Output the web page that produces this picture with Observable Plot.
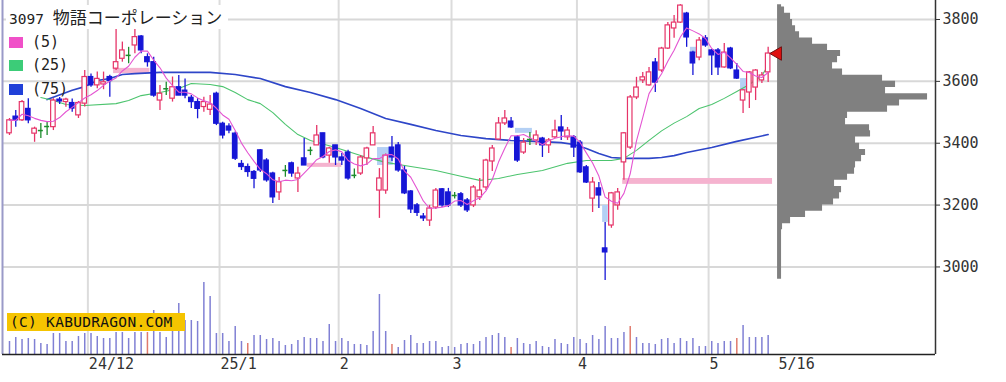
<!DOCTYPE html>
<html><head><meta charset="utf-8">
<script src="https://cdn.jsdelivr.net/npm/d3@7"></script>
<script src="https://cdn.jsdelivr.net/npm/@observablehq/plot@0.6"></script>
<style>
html,body{margin:0;padding:0;background:#fff;}
#wrap{position:relative;width:1006px;height:382px;overflow:hidden;font-family:"DejaVu Sans Mono",monospace;}
#wrap svg{position:absolute;left:0;top:0;}
.title{position:absolute;left:6px;top:5px;background:#fff;padding:0 6px 0 3px;color:#222;white-space:nowrap;line-height:24px;height:24px;}
.title .n{font-family:"DejaVu Sans Mono",monospace;font-size:14.5px;}
.title .j{font-family:"Noto Sans CJK JP",sans-serif;font-size:17px;}
.lg{position:absolute;left:9px;width:14px;height:11px;}
.lt{position:absolute;left:32px;font-size:15px;color:#222;line-height:16px;}
.copy{position:absolute;left:7px;top:313px;width:178px;height:18px;background:#f5c400;color:#111;font-size:14.5px;line-height:18px;padding-left:3px;box-sizing:border-box;letter-spacing:0.3px;}
</style></head><body><div id="wrap"></div><script>
// ---- data (index 0 = 2024-11-13 ... 121 = 2025-05-16) ----
const open  = [3432,3486,3474,3511,3431,3441,3454,3452,3541,3533,3530,3490,3528,3614,3587,3590,3614,3641,3673,3684,3716,3745,3678,3662,3538,3576,3544,3581,3570,3547,3533,3517,3508,3560,3463,3454,3431,3333,3323,3307,3377,3344,3302,3241,3312,3335,3286,3351,3377,3393,3432,3360,3393,3354,3370,3296,3302,3351,3393,3247,3247,3386,3393,3312,3244,3199,3163,3150,3192,3251,3241,3231,3235,3215,3199,3225,3257,3341,3412,3464,3470,3419,3370,3412,3409,3415,3393,3419,3451,3419,3419,3402,3322,3221,3254,3060,3134,3199,3338,3386,3548,3603,3587,3661,3635,3706,3771,3790,3819,3693,3677,3739,3700,3700,3645,3706,3635,3538,3564,3580,3603,3629];
const high  = [3480,3506,3538,3544,3452,3464,3468,3544,3548,3545,3543,3535,3635,3624,3630,3630,3620,3770,3727,3710,3771,3748,3689,3678,3587,3597,3614,3619,3608,3554,3544,3549,3554,3565,3468,3463,3436,3344,3333,3312,3380,3350,3306,3289,3328,3339,3322,3415,3387,3457,3432,3387,3393,3367,3377,3317,3360,3387,3454,3318,3365,3422,3402,3325,3247,3205,3173,3199,3254,3254,3254,3241,3241,3221,3263,3286,3348,3393,3483,3506,3483,3425,3415,3435,3440,3419,3415,3474,3490,3451,3425,3409,3328,3289,3273,3144,3241,3254,3435,3554,3613,3629,3645,3674,3710,3790,3813,3848,3823,3697,3742,3748,3703,3706,3722,3710,3658,3574,3632,3638,3629,3710];
const low   = [3425,3452,3470,3463,3403,3415,3425,3441,3525,3516,3500,3480,3517,3581,3576,3573,3549,3635,3662,3657,3689,3689,3646,3549,3506,3554,3533,3554,3544,3512,3479,3500,3490,3457,3414,3431,3344,3312,3290,3253,3305,3274,3205,3215,3290,3290,3241,3328,3360,3393,3350,3335,3328,3328,3280,3285,3296,3328,3393,3157,3235,3341,3306,3234,3173,3163,3147,3131,3186,3192,3192,3220,3192,3176,3192,3215,3247,3309,3409,3457,3448,3338,3364,3393,3393,3354,3367,3415,3409,3409,3354,3302,3270,3176,3189,2956,3125,3183,3280,3380,3541,3593,3584,3564,3629,3703,3739,3787,3710,3619,3667,3710,3619,3619,3642,3638,3606,3496,3512,3538,3593,3596];
const close = [3474,3474,3533,3474,3447,3441,3454,3538,3535,3541,3512,3530,3614,3587,3608,3597,3601,3662,3700,3684,3743,3700,3662,3554,3560,3576,3581,3554,3554,3533,3511,3533,3525,3463,3425,3441,3350,3323,3307,3285,3312,3280,3225,3274,3312,3302,3302,3328,3377,3425,3354,3383,3354,3344,3286,3296,3354,3383,3432,3286,3360,3354,3312,3238,3186,3175,3157,3189,3247,3199,3199,3231,3199,3183,3257,3247,3344,3383,3464,3480,3451,3344,3402,3412,3425,3393,3409,3441,3438,3441,3386,3306,3273,3273,3231,3047,3238,3241,3432,3548,3580,3613,3629,3596,3706,3781,3790,3845,3742,3658,3732,3716,3684,3645,3693,3642,3609,3571,3629,3635,3619,3690];
// volume (relative units); red-coloured volume days
const volume = [13,17,15,16,15,11,10,21,21,13,13,18,21,21,18,16,16,22,22,16,22,22,22,44,22,17,28,51,34,34,33,72,58,21,21,13,28,13,11,19,19,15,16,13,9,10,14,17,16,16,13,30,13,16,13,10,10,9,23,60,23,10,7,14,19,11,11,13,13,7,8,7,10,11,10,13,17,19,21,17,7,16,11,10,13,8,7,15,11,10,17,15,11,19,15,28,16,16,22,28,17,11,11,10,15,16,11,16,13,16,8,8,13,11,13,13,16,29,17,17,17,19];
const volRedDays = [22,38,61,80,99,116];
// moving averages: [index, price]
const ma25Idx = [5,7,9,12,17,19,21,24,27,29,32,34,36,38,40,42,44,46,48,52,56,60,64,68,72,75,78,81,85,89,92,96,98,100,102,104,106,108,110,112,114,116,118,120,121];
const ma25Val = [3548,3538,3525,3522,3528,3538,3554,3564,3577,3593,3590,3583,3564,3541,3528,3499,3461,3428,3409,3386,3360,3338,3325,3312,3293,3280,3286,3299,3312,3335,3344,3344,3351,3377,3409,3440,3465,3486,3512,3525,3545,3567,3590,3619,3651];
const ma75Idx = [6,10,12,14,16,18,20,24,28,32,36,40,44,48,52,56,60,64,68,72,76,80,84,88,90,92,94,96,98,102,104,106,108,112,116,121];
const ma75Val = [3541,3571,3583,3603,3609,3622,3625,3629,3629,3629,3622,3609,3583,3564,3541,3512,3480,3461,3441,3425,3415,3409,3406,3402,3396,3383,3367,3354,3351,3351,3354,3360,3370,3386,3406,3428];
// window (gap) boxes: start index, end index, low price, high price
const gapUp   = [[16.6,22.4,3625,3642],[47.5,53.0,3322,3335],[97.8,121.7,3267,3286]];
const gapDown = [[58.7,61.2,3328,3386],[80.7,83.4,3432,3448],[94.6,95.5,3144,3199],[108.6,109.7,3690,3710],[116.6,117.7,3571,3609]];
// price-by-volume profile: bin low price and relative volume (top of last bin 3848)
const profLo  = [2960,2980,3000,3020,3040,3060,3080,3100,3120,3140,3160,3180,3200,3220,3240,3260,3280,3300,3320,3340,3360,3380,3400,3420,3440,3460,3480,3500,3520,3540,3560,3580,3600,3620,3640,3660,3680,3700,3720,3740,3760,3780,3800,3820,3840];
const profVol = [4,4,4,4,4,4,4,4,5,13,28,45,56,62,64,57,70,77,78,84,88,82,78,93,92,68,70,110,122,150,108,118,105,65,55,60,63,50,35,22,18,15,13,7,4];
const profTop = 3848;
const priceTicks = [3000,3200,3400,3600,3800];
const monthIdx = [12.5,33.5,52.5,70.5,90.5,111.5];
const labelIdx = [12.5,33.5,52.5,70.5,90.5,111.5,122.5];
const labelTxt = ["24/12","25/1","2","3","4","5","5/16"];

// ---- build ----
const candles = open.map((o,i)=>({i,o,h:high[i],l:low[i],c:close[i]}));
const kind = d => d.c>d.o ? "up" : d.c<d.o ? "down" : "doji";
const RED="#e63468", BLUE="#1616d6", GREEN="#1c8c2c";
const colorOf = d => ({up:RED,down:BLUE,doji:GREEN})[kind(d)];
const xDom = [-1.116, 147.69];
const pxPerIdx = (935-2)/(xDom[1]-xDom[0]);
const profBase = 122.5;
const common = {width:1006,height:382,marginLeft:2,marginRight:71,marginTop:0,marginBottom:28,
  style:{background:"transparent",overflow:"visible",fontFamily:"DejaVu Sans Mono, monospace",fontSize:"15px",color:"#333"}};
const volData = volume.map((v,i)=>({i,v,red:volRedDays.includes(i)}));
const volPlot = Plot.plot({...common,
  x:{domain:xDom,axis:null}, y:{domain:[0,354],axis:null},
  marks:[
    Plot.ruleX(monthIdx,{stroke:"#dcdcdc",strokeWidth:2}),
    Plot.ruleX(volData,{x:"i",y1:0,y2:"v",stroke:d=>d.red?"#e07a6c":"#8080d4",strokeWidth:1.5}),
    Plot.axisX({ticks:labelIdx,tickFormat:d=>labelTxt[labelIdx.indexOf(d)],tickSize:0,tickPadding:4,textAnchor:"start",fontSize:15,dx:1,fill:"#333",label:null}),
  ]});
const ma25 = ma25Idx.map((x,k)=>({x,y:ma25Val[k]}));
const ma75 = ma75Idx.map((x,k)=>({x,y:ma75Val[k]}));
const prof = profLo.map((lo,k)=>({p:lo,v:profVol[k]})).concat([{p:profTop,v:profVol[profVol.length-1]}]);
const gapRect = (arr,fill)=>Plot.rect(arr,{x1:d=>d[0],x2:d=>d[1],y1:d=>d[2],y2:d=>d[3],fill});
const bodies = candles.filter(d=>kind(d)!=="doji");
const dojis = candles.filter(d=>kind(d)==="doji");
const pricePlot = Plot.plot({...common,
  x:{domain:xDom,axis:null}, y:{domain:[2717,3861.4],axis:null},
  marks:[
    Plot.ruleY(priceTicks,{stroke:"#d8d8d8",strokeWidth:2}),
    gapRect(gapUp,"#f5b3cf"),
    gapRect(gapDown,"#b4d0f4"),
    Plot.line(ma75,{x:"x",y:"y",stroke:"#2e46c8",strokeWidth:1.6}),
    Plot.line(ma25,{x:"x",y:"y",stroke:"#4cc46e",strokeWidth:1.1}),
    Plot.ruleX(candles,{x:"i",y1:"l",y2:"h",stroke:colorOf,strokeWidth:1.3}),
    Plot.rect(bodies,{x1:d=>d.i-0.36,x2:d=>d.i+0.36,y1:d=>Math.min(d.o,d.c),y2:d=>Math.max(d.o,d.c),
      fill:d=>kind(d)==="up"?"#fff":BLUE, stroke:colorOf, strokeWidth:1.2}),
    Plot.ruleY(dojis,{y:"c",x1:d=>d.i-0.4,x2:d=>d.i+0.4,stroke:GREEN,strokeWidth:1.5}),
    Plot.line(candles,Plot.windowY({k:5,anchor:"end",strict:false},{x:"i",y:"c",stroke:"#e455d2",strokeWidth:1.1})),
    Plot.areaX(prof,{y:"p",x1:profBase,x2:d=>profBase+d.v/pxPerIdx,curve:"step-before",fill:"#808080"}),
    Plot.dot([close[close.length-1]],{x:profBase,y:d=>d,symbol:"triangle",rotate:-90,r:5,fill:"#e01010",stroke:"#701010",strokeWidth:1}),
    Plot.ruleX([xDom[1]],{stroke:"#333",strokeWidth:1.5}),
    Plot.ruleX([xDom[0]],{stroke:"#9a9ac8",strokeWidth:2}),
    Plot.ruleY([2717],{stroke:"#222",strokeWidth:1.5}),
    Plot.axisY({anchor:"right",ticks:priceTicks,tickFormat:d=>String(d),tickSize:4,tickPadding:3,fontSize:15,fill:"#333",stroke:"#333",label:null}),
  ]});
const wrap = document.getElementById("wrap");
wrap.appendChild(volPlot);
wrap.appendChild(pricePlot);
const html = (h)=>{const d=document.createElement("div");d.innerHTML=h;return d.firstChild;};
wrap.appendChild(html('<div class="title"><span class="n">3097 </span><span class="j">物語コーポレーション</span></div>'));
const legend = [["(5)","#f050c8",37],["(25)","#3ccc78",60],["(75)","#2040d8",84]];
for (const [t,c,y] of legend){
  wrap.appendChild(html(`<div class="lg" style="top:${y}px;background:${c}"></div>`));
  wrap.appendChild(html(`<div class="lt" style="top:${y-3}px">${t}</div>`));
}
wrap.appendChild(html('<div class="copy">(C) KABUDRAGON.COM</div>'));
</script></body></html>
